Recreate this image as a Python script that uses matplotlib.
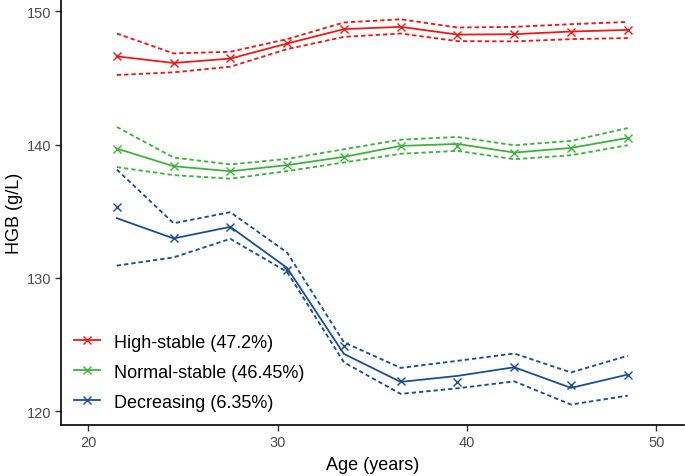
import matplotlib
matplotlib.use("Agg")
import matplotlib.pyplot as plt

plt.rcParams['font.family'] = ['Liberation Sans', 'DejaVu Sans']

ages = [21.5, 24.5, 27.5, 30.5, 33.5, 36.5, 39.5, 42.5, 45.5, 48.5]

groups = ["High-stable (47.2%)", "Normal-stable (46.45%)", "Decreasing (6.35%)"]
colors = ["#F01818", "#3FB23E", "#1A4F97"]

# High-stable
high_fit = [146.62, 146.12, 146.45, 147.58, 148.66, 148.83, 148.25, 148.28, 148.48, 148.6]
high_obs = [146.65, 146.12, 146.47, 147.59, 148.66, 148.83, 148.23, 148.28, 148.48, 148.58]
high_up = [148.33, 146.84, 146.96, 147.91, 149.16, 149.4, 148.78, 148.83, 149.03, 149.2]
high_lo = [145.22, 145.42, 145.84, 147.16, 148.08, 148.33, 147.76, 147.74, 147.91, 147.99]

# Normal-stable
norm_fit = [139.7, 138.38, 138.0, 138.46, 139.08, 139.9, 140.05, 139.4, 139.75, 140.5]
norm_obs = [139.7, 138.38, 138.01, 138.46, 139.08, 139.9, 139.9, 139.4, 139.78, 140.5]
norm_up = [141.32, 139.03, 138.51, 138.93, 139.65, 140.37, 140.57, 139.95, 140.28, 141.24]
norm_lo = [138.31, 137.71, 137.44, 138.01, 138.66, 139.31, 139.53, 138.9, 139.2, 139.95]

# Decreasing
dec_fit = [134.48, 132.96, 133.83, 130.75, 124.3, 122.2, 122.65, 123.3, 121.75, 122.75]
dec_obs = [135.35, 132.96, 133.8, 130.6, 124.9, 122.25, 122.2, 123.3, 122.0, 122.75]
dec_up = [138.13, 134.1, 134.93, 131.9, 125.17, 123.25, 123.78, 124.33, 122.91, 124.16]
dec_lo = [130.92, 131.54, 132.93, 130.45, 123.67, 121.3, 121.72, 122.24, 120.5, 121.17]

fits = [high_fit, norm_fit, dec_fit]
obss = [high_obs, norm_obs, dec_obs]
ups = [high_up, norm_up, dec_up]
los = [high_lo, norm_lo, dec_lo]

fig = plt.figure(figsize=(6.85, 4.77), dpi=100)
ax = fig.add_axes([0.089, 0.107, 0.909, 0.893])

handles = []
for lab, c, f, o, u, l in zip(groups, colors, fits, obss, ups, los):
    ax.plot(ages, u, color=c, lw=1.35, dashes=(2.3, 1.6))
    ax.plot(ages, l, color=c, lw=1.35, dashes=(2.3, 1.6))
    ax.plot(ages, f, color=c, lw=1.3)
    ax.plot(ages, o, ls='none', marker='x', ms=6.2, mew=1.0, color=c)
    h, = ax.plot([], [], color=c, lw=1.3, marker='x', ms=6.2, mew=1.0, label=lab)
    handles.append(h)

ax.set_xlim(18.55, 51.45)
ax.set_ylim(118.97, 150.92)
ax.set_xticks([20, 30, 40, 50])
ax.set_yticks([120, 130, 140, 150])

for s in ['top', 'right']:
    ax.spines[s].set_visible(False)
for s in ['left', 'bottom']:
    ax.spines[s].set_linewidth(1.2)
    ax.spines[s].set_color('black')

ax.tick_params(axis='both', length=4, width=1.0, color='#333333',
               labelsize=10.5, labelcolor='#4D4D4D', pad=3)

ax.set_xlabel("Age (years)", fontsize=13, color='black', labelpad=5)
ax.set_ylabel("HGB (g/L)", fontsize=13, color='black', labelpad=3)

leg = ax.legend(handles=handles, loc='lower left', bbox_to_anchor=(0.0, 0.004),
                frameon=False, fontsize=13, handlelength=1.45, handletextpad=0.78,
                labelspacing=0.72, borderaxespad=0.3)

fig.savefig("out.png", dpi=100)
